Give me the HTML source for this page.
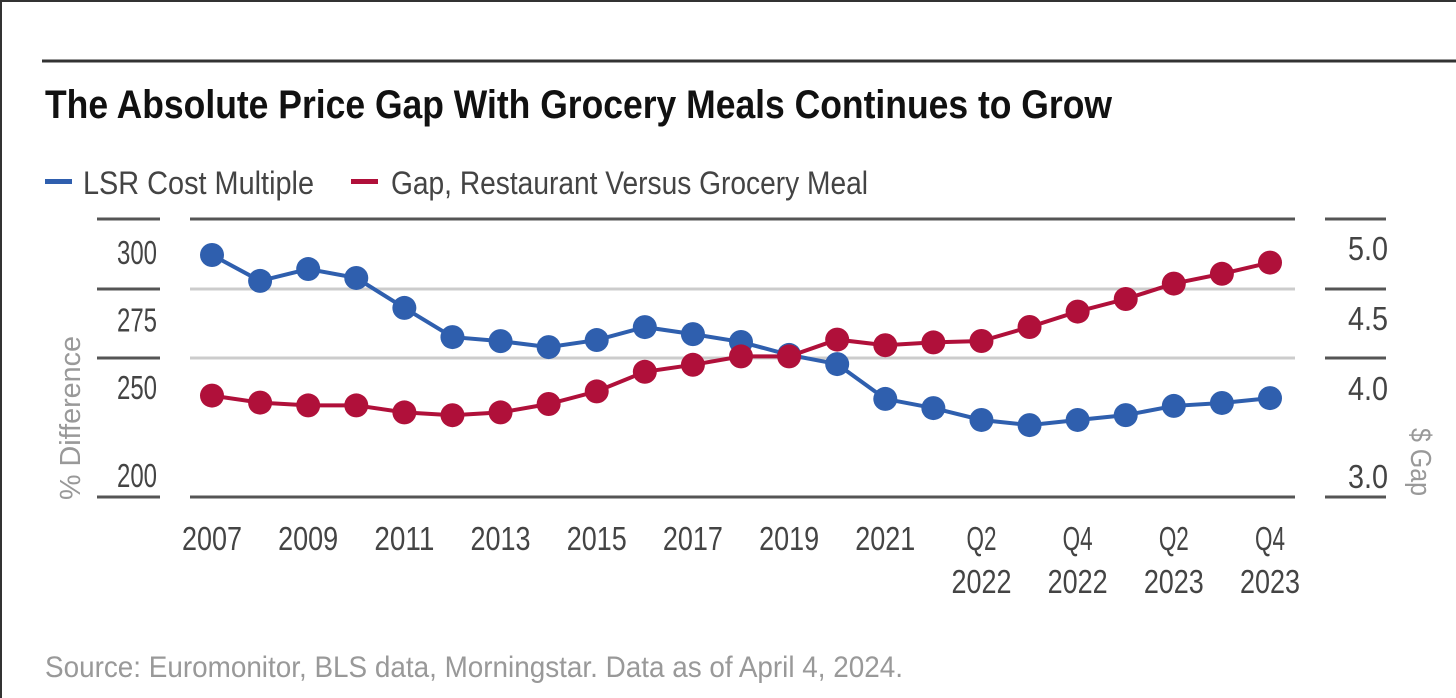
<!DOCTYPE html>
<html><head><meta charset="utf-8"><style>
html,body{margin:0;padding:0;background:#fff;}
svg{display:block;font-family:"Liberation Sans Narrow","Liberation Sans",sans-serif;}
</style></head><body>
<svg id="chart" width="1456" height="698" viewBox="0 0 1456 698" xmlns="http://www.w3.org/2000/svg">
<rect x="1" y="1" width="1470" height="710" fill="#fff" stroke="#333" stroke-width="2"/>
<line x1="42" y1="61" x2="1456" y2="61" stroke="#333" stroke-width="3"/>
<text x="45" y="118" font-size="40" font-weight="bold" fill="#111" textLength="1067" lengthAdjust="spacingAndGlyphs">The Absolute Price Gap With Grocery Meals Continues to Grow</text>
<g>
<rect x="45" y="179" width="27" height="5" fill="#2f5fae"/>
<text x="83" y="194" font-size="32" fill="#444" textLength="231" lengthAdjust="spacingAndGlyphs">LSR Cost Multiple</text>
<rect x="351" y="179" width="27" height="5" fill="#b0103a"/>
<text x="391" y="194" font-size="32" fill="#444" textLength="477" lengthAdjust="spacingAndGlyphs">Gap, Restaurant Versus Grocery Meal</text>
</g>
<g id="grid"></g>
<g id="axes"></g>
<g id="series"></g>
<text transform="translate(80,418) rotate(-90)" font-size="29" fill="#999" text-anchor="middle" textLength="164" lengthAdjust="spacingAndGlyphs">% Difference</text>
<text transform="translate(1411,462) rotate(90)" font-size="29" fill="#999" text-anchor="middle" textLength="68" lengthAdjust="spacingAndGlyphs">$ Gap</text>
<text x="45" y="677" font-size="30" fill="#999" textLength="858" lengthAdjust="spacingAndGlyphs">Source: Euromonitor, BLS data, Morningstar. Data as of April 4, 2024.</text>
</svg>
<script>
const categories = ["2007","2008","2009","2010","2011","2012","2013","2014","2015","2016","2017","2018","2019","2020","2021","Q1 2022","Q2 2022","Q3 2022","Q4 2022","Q1 2023","Q2 2023","Q3 2023","Q4 2023"];
const lsrValues = [300,290.4,294.8,291.5,280.4,269.6,268.1,265.9,268.5,273.3,270.7,267.8,263.0,259.6,246.7,243.3,238.9,237.0,238.9,240.7,244.1,245.2,247.0];
const gapValues = [3.96,3.91,3.89,3.89,3.84,3.82,3.84,3.90,3.99,4.13,4.18,4.24,4.24,4.36,4.32,4.34,4.35,4.45,4.56,4.65,4.76,4.83,4.91];
const xTickLabels = [["2007"],["2009"],["2011"],["2013"],["2015"],["2017"],["2019"],["2021"],["Q2","2022"],["Q4","2022"],["Q2","2023"],["Q4","2023"]];
const xTickIndex = [0,2,4,6,8,10,12,14,16,18,20,22];
const leftTicks = ["300","275","250","200"];
const leftTickValues = [300,275,250,217.5];
const rightTicks = ["5.0","4.5","4.0","3.0"];
const rightTickValues = [5.0,4.5,4.0,3.37];

const NS="http://www.w3.org/2000/svg";
function mk(tag,attrs,parent,txt){const e=document.createElementNS(NS,tag);for(const k in attrs)e.setAttribute(k,attrs[k]);if(txt!==undefined)e.textContent=txt;parent.appendChild(e);return e;}
const xScale=i=>212+i*(1270-212)/(categories.length-1);
const yLeft=v=>255+(300-v)*2.7;
const yRight=v=>250+(5-v)*140;

const grid=document.getElementById('grid');
const gridYs=[219,289,358,497];
gridYs.forEach((y,k)=>{
  const dark=(k===0||k===3);
  const g=mk('line',{x1:190,y1:y,x2:1295,y2:y,stroke:dark?'#555':'#ccc','stroke-width':3},grid);
  
  
  const l=mk('line',{x1:97,y1:y,x2:160,y2:y,stroke:'#555','stroke-width':3},grid);
  
  
  const r=mk('line',{x1:1325,y1:y,x2:1386,y2:y,stroke:'#555','stroke-width':3},grid);
  
  
});
const axes=document.getElementById('axes');
leftTicks.forEach((t,i)=>{
  const e=mk('text',{x:157,y:yLeft(leftTickValues[i])+9,'font-size':33,fill:'#444','text-anchor':'end',textLength:40,lengthAdjust:'spacingAndGlyphs'},axes,t);
  
  
});
rightTicks.forEach((t,i)=>{
  const e=mk('text',{x:1388,y:yRight(rightTickValues[i])+10,'font-size':33,fill:'#444','text-anchor':'end',textLength:40,lengthAdjust:'spacingAndGlyphs'},axes,t);
  
  
});
xTickLabels.forEach((lines,i)=>{
  const x=xScale(xTickIndex[i]);
  lines.forEach((s,j)=>{
    const w=s.length===4?60:30;
    const e=mk('text',{x:x,y:550+j*43,'font-size':33,fill:'#444','text-anchor':'middle',textLength:w,lengthAdjust:'spacingAndGlyphs'},axes,s);
    
    
  });
});
const ser=document.getElementById('series');
function drawSeries(vals,yf,color,name){
  const pts=vals.map((v,i)=>xScale(i)+','+yf(v)).join(' ');
  const pl=mk('polyline',{points:pts,fill:'none',stroke:color,'stroke-width':4},ser);
  
  
  vals.forEach((v,i)=>{
    const c=mk('circle',{cx:xScale(i),cy:yf(v),r:12,fill:color},ser);
    
    
  });
}
drawSeries(lsrValues,yLeft,'#2f5fae','lsr-cost-multiple');
drawSeries(gapValues,yRight,'#b0103a','price-gap');
</script>
</body></html>
